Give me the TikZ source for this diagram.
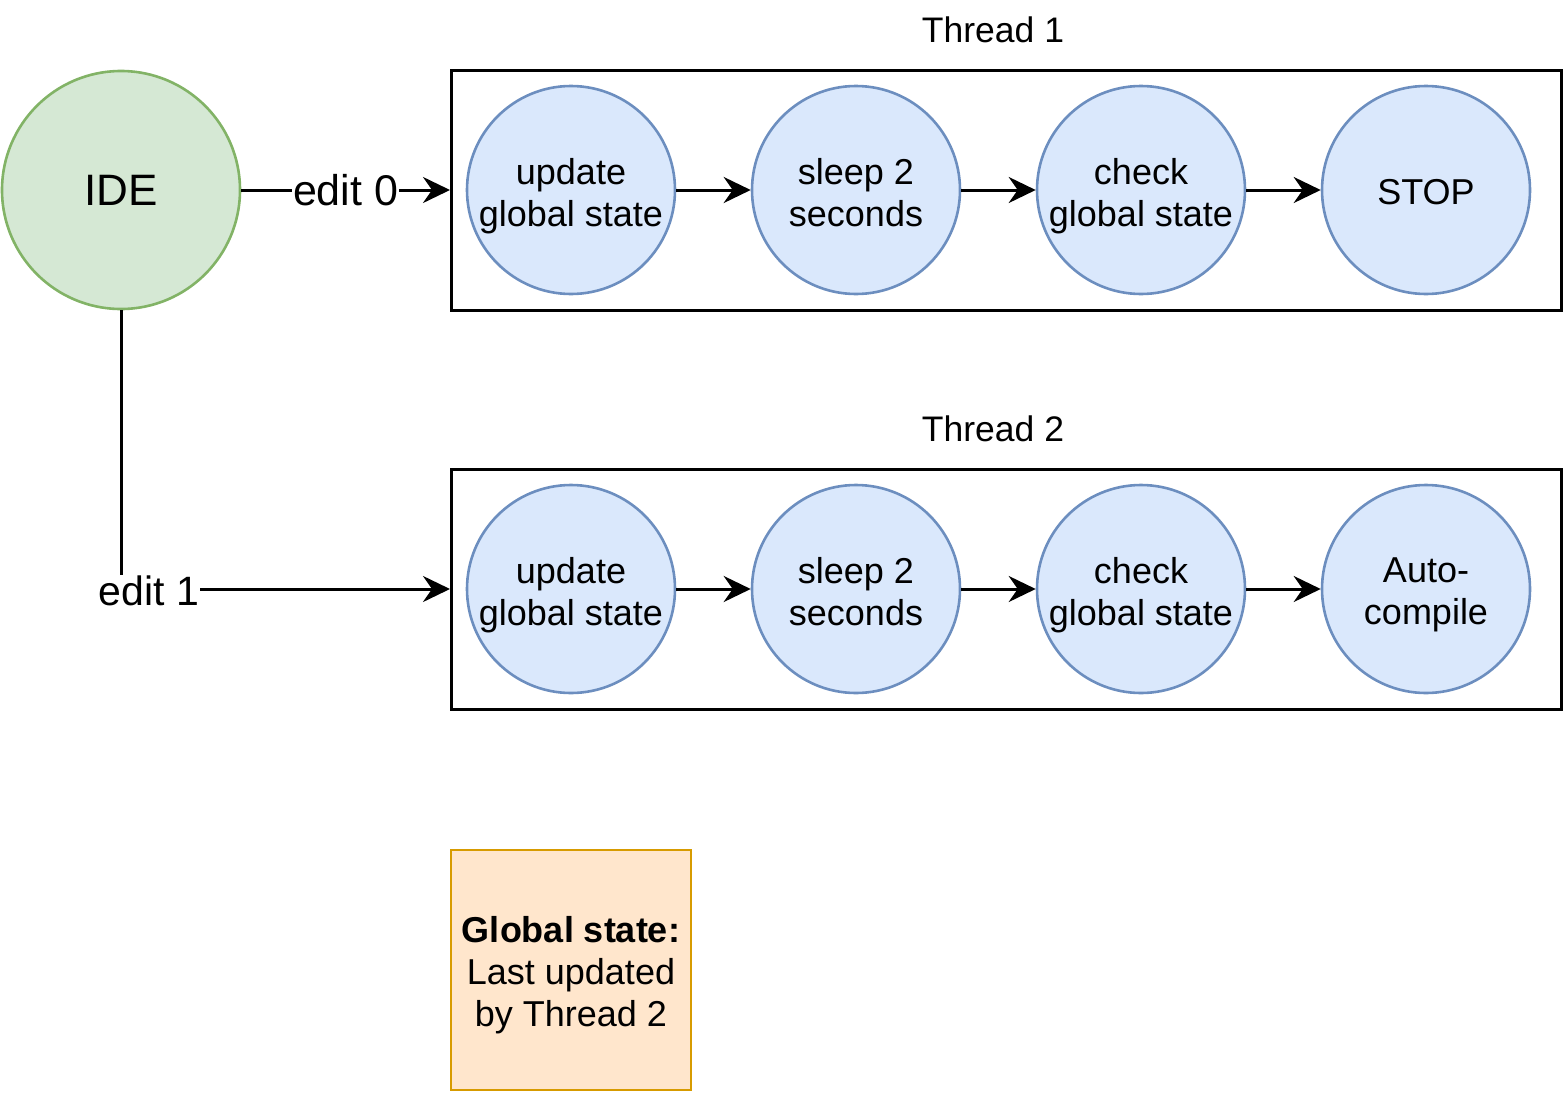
\documentclass[tikz,border=0pt]{standalone}
\usepackage{fontspec}
\setmainfont{Liberation Sans}
\usetikzlibrary{arrows.meta}
\definecolor{greenfill}{HTML}{D5E8D4}
\definecolor{greenline}{HTML}{82B366}
\definecolor{bluefill}{HTML}{DAE8FC}
\definecolor{blueline}{HTML}{6C8EBF}
\definecolor{orangefill}{HTML}{FFE6CC}
\definecolor{orangeline}{HTML}{D79B00}
\tikzset{
  stepcirc/.style={circle, draw=blueline, fill=bluefill, line width=2.6pt, minimum size=208pt, inner sep=0pt},
  steptxt/.style={align=center, font=\fontsize{36}{42}\selectfont, inner sep=0pt},
  threadbox/.style={draw=black, line width=3pt, minimum width=1110pt, minimum height=240pt, inner sep=0pt},
  conn/.style={line width=3pt, -{Stealth[length=27pt,width=26pt,inset=9pt]}},
  lbl/.style={font=\fontsize{35.5}{42}\selectfont},
  edgelbl/.style={font=\fontsize{43}{50}\selectfont, fill=white, inner sep=1pt},
}
\begin{document}
\begin{tikzpicture}[x=1pt,y=-1pt]
\useasboundingbox (0,0) rectangle (1566,1095);
% IDE
\node[circle, draw=greenline, fill=greenfill, line width=2.6pt, minimum size=238pt, inner sep=0pt, font=\fontsize{44}{50}\selectfont] (ide) at (121,190) {IDE};
% thread boxes
\node[threadbox] (t1) at (1006.5,190) {};
\node[threadbox] (t2) at (1006.5,589) {};
\node[lbl] (t1lbl) at (993,30) {Thread 1};
\node[lbl] (t2lbl) at (993,429) {Thread 2};
% row 1
\node[stepcirc] (a1) at (571,190) {};
\node[stepcirc] (b1) at (856,190) {};
\node[stepcirc] (c1) at (1141,190) {};
\node[stepcirc] (d1) at (1426,190) {};
% row 2
\node[stepcirc] (a2) at (571,589) {};
\node[stepcirc] (b2) at (856,589) {};
\node[stepcirc] (c2) at (1141,589) {};
\node[stepcirc] (d2) at (1426,589) {};
% texts
\node[steptxt] (a1t) at ([yshift=-6pt]a1.center) {update\\global state};
\node[steptxt] (b1t) at ([yshift=-3pt]b1.center) {sleep 2\\seconds};
\node[steptxt] (c1t) at ([yshift=-6pt]c1.center) {check\\global state};
\node[steptxt] (d1t) at ([yshift=-2pt]d1.center) {STOP};
\node[steptxt] (a2t) at ([yshift=-6pt]a2.center) {update\\global state};
\node[steptxt] (b2t) at ([yshift=-3pt]b2.center) {sleep 2\\seconds};
\node[steptxt] (c2t) at ([yshift=-6pt]c2.center) {check\\global state};
\node[steptxt] (d2t) at ([yshift=-6pt]d2.center) {Auto-\\compile};
% arrows inside
\draw[conn] (a1) -- (b1);
\draw[conn] (b1) -- (c1);
\draw[conn] (c1) -- (d1);
\draw[conn] (a2) -- (b2);
\draw[conn] (b2) -- (c2);
\draw[conn] (c2) -- (d2);
% IDE edges
\draw[conn] (ide.east) -- node[edgelbl, pos=0.5] (e0) {edit 0} (t1.west);
\coordinate (corner) at (121,589);
\draw[conn] (ide.south) -- (corner) -- (t2.west);
\node[edgelbl, font=\fontsize{41}{48}\selectfont] (e1) at (149,591) {edit 1};
% global state
\node[draw=orangeline, fill=orangefill, line width=2.6pt, minimum width=240pt, minimum height=240pt, inner sep=0pt] (gs) at (571,970) {};
\node[steptxt] (gst) at ([yshift=-5pt]gs.center) {\textbf{Global state:}\\Last updated\\by Thread 2};
\end{tikzpicture}
\end{document}
